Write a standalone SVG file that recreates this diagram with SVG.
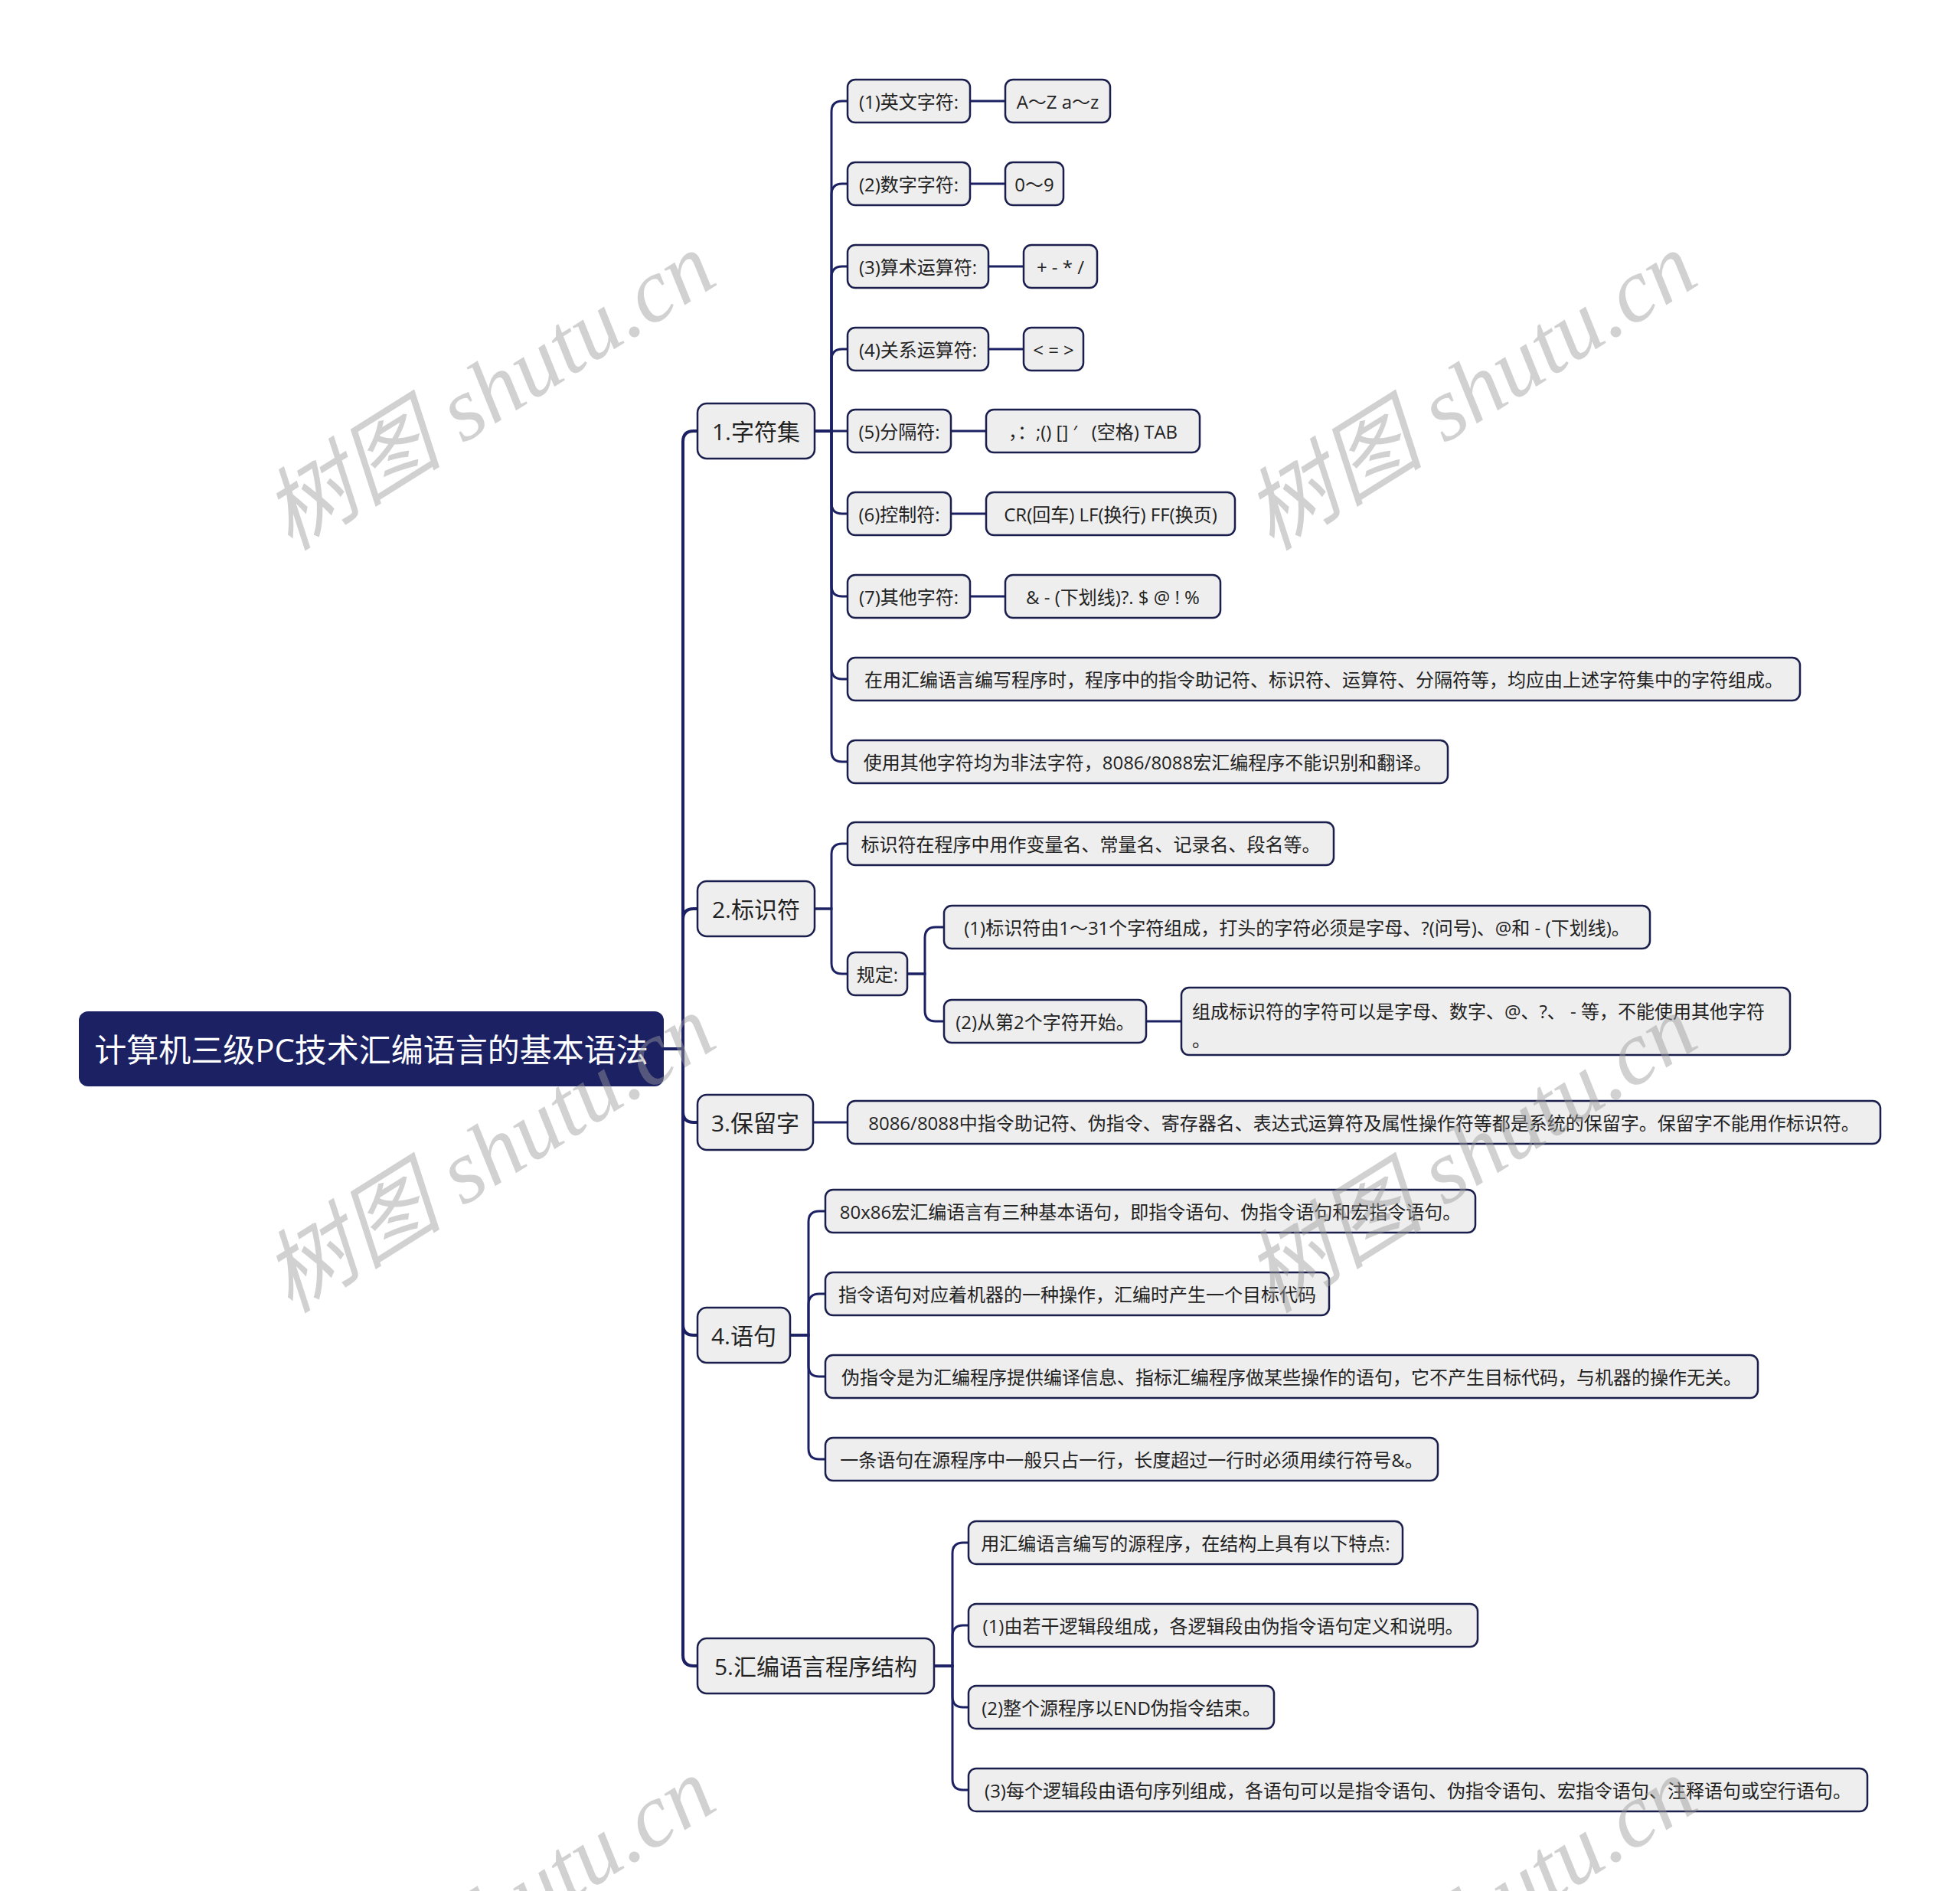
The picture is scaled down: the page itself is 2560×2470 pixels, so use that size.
<svg xmlns="http://www.w3.org/2000/svg" width="2560" height="2470" viewBox="0 0 2560 2470">
<style>
.t{font-family:"Open Sans","Noto Sans CJK SC",sans-serif;fill:#222;dominant-baseline:central;text-anchor:middle}
.s{font-size:24px}
.m{font-size:30px}
.b{fill:#eeeeee;stroke:#1a1e4c;stroke-width:2.5}
.c{fill:none;stroke:#1c2164;stroke-width:3}
.c4{fill:none;stroke:#1c2164;stroke-width:4}
.wm{font-family:"Liberation Serif","Noto Sans CJK SC",serif;font-size:118px;font-style:italic;fill:#9a9a9a;opacity:0.45;text-anchor:middle}
</style>
<rect width="2560" height="2470" fill="#ffffff"/>
<g id="connectors">
<g class="c4">
<path d="M867,1370 H892 V577 Q892,563 906,563 H911"/>
<path d="M867,1370 H892 V1201 Q892,1187 906,1187 H911"/>
<path d="M867,1370 H892 V1452 Q892,1466 906,1466 H911"/>
<path d="M867,1370 H892 V1730 Q892,1744 906,1744 H911"/>
<path d="M867,1370 H892 V2162 Q892,2176 906,2176 H911"/>
</g>
<g class="c">
<path d="M1064,563 H1086 V146 Q1086,132 1100,132 H1107"/>
<path d="M1064,563 H1086 V254 Q1086,240 1100,240 H1107"/>
<path d="M1064,563 H1086 V362 Q1086,348 1100,348 H1107"/>
<path d="M1064,563 H1086 V470 Q1086,456 1100,456 H1107"/>
<path d="M1064,563 H1107"/>
<path d="M1064,563 H1086 V657 Q1086,671 1100,671 H1107"/>
<path d="M1064,563 H1086 V765 Q1086,779 1100,779 H1107"/>
<path d="M1064,563 H1086 V873 Q1086,887 1100,887 H1107"/>
<path d="M1064,563 H1086 V981 Q1086,995 1100,995 H1107"/>
<path d="M1267,132 H1313"/>
<path d="M1267,240 H1313"/>
<path d="M1291,348 H1337"/>
<path d="M1291,456 H1337"/>
<path d="M1242,563 H1288"/>
<path d="M1242,671 H1288"/>
<path d="M1267,779 H1313"/>
<path d="M1064,1187 H1086 V1116 Q1086,1102 1100,1102 H1107"/>
<path d="M1064,1187 H1086 V1258 Q1086,1272 1100,1272 H1107"/>
<path d="M1185,1272 H1208 V1225 Q1208,1211 1222,1211 H1233"/>
<path d="M1185,1272 H1208 V1320 Q1208,1334 1222,1334 H1233"/>
<path d="M1497,1334 H1543"/>
<path d="M1062,1466 H1107"/>
<path d="M1032,1744 H1056 V1596 Q1056,1582 1070,1582 H1078"/>
<path d="M1032,1744 H1056 V1704 Q1056,1690 1070,1690 H1078"/>
<path d="M1032,1744 H1056 V1784 Q1056,1798 1070,1798 H1078"/>
<path d="M1032,1744 H1056 V1892 Q1056,1906 1070,1906 H1078"/>
<path d="M1220,2176 H1244 V2029 Q1244,2015 1258,2015 H1265"/>
<path d="M1220,2176 H1244 V2137 Q1244,2123 1258,2123 H1265"/>
<path d="M1220,2176 H1244 V2216 Q1244,2230 1258,2230 H1265"/>
<path d="M1220,2176 H1244 V2324 Q1244,2338 1258,2338 H1265"/>
</g>
</g>
<g id="root"><rect x="103" y="1321" width="764" height="98" rx="12" fill="#1c2164"/><text class="t" x="485" y="1370" style="font-size:42px;fill:#ffffff">计算机三级PC技术汇编语言的基本语法</text></g>
<g id="n1"><rect class="b" x="911" y="527" width="153" height="72" rx="12"/><text class="t m" x="987.5" y="563">1.字符集</text></g>
<g id="n2"><rect class="b" x="911" y="1151" width="153" height="72" rx="12"/><text class="t m" x="987.5" y="1187">2.标识符</text></g>
<g id="n3"><rect class="b" x="911" y="1430" width="151" height="72" rx="12"/><text class="t m" x="986.5" y="1466">3.保留字</text></g>
<g id="n4"><rect class="b" x="911" y="1708" width="121" height="72" rx="12"/><text class="t m" x="971.5" y="1744">4.语句</text></g>
<g id="n5"><rect class="b" x="911" y="2140" width="309" height="72" rx="12"/><text class="t m" x="1065.5" y="2176">5.汇编语言程序结构</text></g>
<g id="c1"><rect class="b" x="1107" y="104" width="160" height="56" rx="10"/><text class="t s" x="1187" y="132">(1)英文字符:</text></g>
<g id="v1"><rect class="b" x="1313" y="104" width="137" height="56" rx="10"/><text class="t s" x="1381.5" y="132">A～Z a～z</text></g>
<g id="c2"><rect class="b" x="1107" y="212" width="160" height="56" rx="10"/><text class="t s" x="1187" y="240">(2)数字字符:</text></g>
<g id="v2"><rect class="b" x="1313" y="212" width="76" height="56" rx="10"/><text class="t s" x="1351" y="240">0～9</text></g>
<g id="c3"><rect class="b" x="1107" y="320" width="184" height="56" rx="10"/><text class="t s" x="1199" y="348">(3)算术运算符:</text></g>
<g id="v3"><rect class="b" x="1337" y="320" width="96" height="56" rx="10"/><text class="t s" x="1385" y="348">+ - * /</text></g>
<g id="c4"><rect class="b" x="1107" y="428" width="184" height="56" rx="10"/><text class="t s" x="1199" y="456">(4)关系运算符:</text></g>
<g id="v4"><rect class="b" x="1337" y="428" width="78" height="56" rx="10"/><text class="t s" x="1376" y="456">&lt; = &gt;</text></g>
<g id="c5"><rect class="b" x="1107" y="535" width="135" height="56" rx="10"/><text class="t s" x="1174.5" y="563">(5)分隔符:</text></g>
<g id="v5"><rect class="b" x="1288" y="535" width="279" height="56" rx="10"/><text class="t s" x="1427.5" y="563" xml:space="preserve">，：;() [] ′   (空格) TAB</text></g>
<g id="c6"><rect class="b" x="1107" y="643" width="135" height="56" rx="10"/><text class="t s" x="1174.5" y="671">(6)控制符:</text></g>
<g id="v6"><rect class="b" x="1288" y="643" width="325" height="56" rx="10"/><text class="t s" x="1450.5" y="671">CR(回车) LF(换行) FF(换页)</text></g>
<g id="c7"><rect class="b" x="1107" y="751" width="160" height="56" rx="10"/><text class="t s" x="1187" y="779">(7)其他字符:</text></g>
<g id="v7"><rect class="b" x="1313" y="751" width="281" height="56" rx="10"/><text class="t s" x="1453.5" y="779">&amp; - (下划线)?. $ @ ! %</text></g>
<g id="c8"><rect class="b" x="1107" y="859" width="1244" height="56" rx="10"/><text class="t s" x="1729" y="887">在用汇编语言编写程序时，程序中的指令助记符、标识符、运算符、分隔符等，均应由上述字符集中的字符组成。</text></g>
<g id="c9"><rect class="b" x="1107" y="967" width="784" height="56" rx="10"/><text class="t s" x="1499" y="995">使用其他字符均为非法字符，8086/8088宏汇编程序不能识别和翻译。</text></g>
<g id="d1"><rect class="b" x="1107" y="1074" width="635" height="56" rx="10"/><text class="t s" x="1424.5" y="1102">标识符在程序中用作变量名、常量名、记录名、段名等。</text></g>
<g id="d2"><rect class="b" x="1107" y="1244" width="78" height="56" rx="10"/><text class="t s" x="1146" y="1272">规定:</text></g>
<g id="e1"><rect class="b" x="1233" y="1183" width="922" height="56" rx="10"/><text class="t s" x="1694" y="1211">(1)标识符由1～31个字符组成，打头的字符必须是字母、?(问号)、@和 - (下划线)。</text></g>
<g id="e2"><rect class="b" x="1233" y="1306" width="264" height="56" rx="10"/><text class="t s" x="1365" y="1334">(2)从第2个字符开始。</text></g>
<g id="f1"><rect class="b" x="1543" y="1290" width="795" height="88" rx="10"/><text class="t s" x="1557" y="1320" style="text-anchor:start">组成标识符的字符可以是字母、数字、@、?、 - 等，不能使用其他字符</text><text class="t s" x="1557" y="1357" style="text-anchor:start">。</text></g>
<g id="g1"><rect class="b" x="1107" y="1438" width="1349" height="56" rx="10"/><text class="t s" x="1781.5" y="1466">8086/8088中指令助记符、伪指令、寄存器名、表达式运算符及属性操作符等都是系统的保留字。保留字不能用作标识符。</text></g>
<g id="h1"><rect class="b" x="1078" y="1554" width="849" height="56" rx="10"/><text class="t s" x="1502.5" y="1582">80x86宏汇编语言有三种基本语句，即指令语句、伪指令语句和宏指令语句。</text></g>
<g id="h2"><rect class="b" x="1078" y="1662" width="658" height="56" rx="10"/><text class="t s" x="1407" y="1690">指令语句对应着机器的一种操作，汇编时产生一个目标代码</text></g>
<g id="h3"><rect class="b" x="1078" y="1770" width="1218" height="56" rx="10"/><text class="t s" x="1687" y="1798">伪指令是为汇编程序提供编译信息、指标汇编程序做某些操作的语句，它不产生目标代码，与机器的操作无关。</text></g>
<g id="h4"><rect class="b" x="1078" y="1878" width="800" height="56" rx="10"/><text class="t s" x="1478" y="1906">一条语句在源程序中一般只占一行，长度超过一行时必须用续行符号&amp;。</text></g>
<g id="i1"><rect class="b" x="1265" y="1987" width="567" height="56" rx="10"/><text class="t s" x="1548.5" y="2015">用汇编语言编写的源程序，在结构上具有以下特点:</text></g>
<g id="i2"><rect class="b" x="1265" y="2095" width="665" height="56" rx="10"/><text class="t s" x="1597.5" y="2123">(1)由若干逻辑段组成，各逻辑段由伪指令语句定义和说明。</text></g>
<g id="i3"><rect class="b" x="1265" y="2202" width="399" height="56" rx="10"/><text class="t s" x="1464.5" y="2230">(2)整个源程序以END伪指令结束。</text></g>
<g id="i4"><rect class="b" x="1265" y="2310" width="1174" height="56" rx="10"/><text class="t s" x="1852" y="2338">(3)每个逻辑段由语句序列组成，各语句可以是指令语句、伪指令语句、宏指令语句、注释语句或空行语句。</text></g>
<g id="watermarks">
<text class="wm" transform="translate(660,545) rotate(-32)">树图 shutu.cn</text>
<text class="wm" transform="translate(1942,545) rotate(-32)">树图 shutu.cn</text>
<text class="wm" transform="translate(660,1541) rotate(-32)">树图 shutu.cn</text>
<text class="wm" transform="translate(1942,1541) rotate(-32)">树图 shutu.cn</text>
<text class="wm" transform="translate(660,2537) rotate(-32)">树图 shutu.cn</text>
<text class="wm" transform="translate(1942,2537) rotate(-32)">树图 shutu.cn</text>
</g>
</svg>
